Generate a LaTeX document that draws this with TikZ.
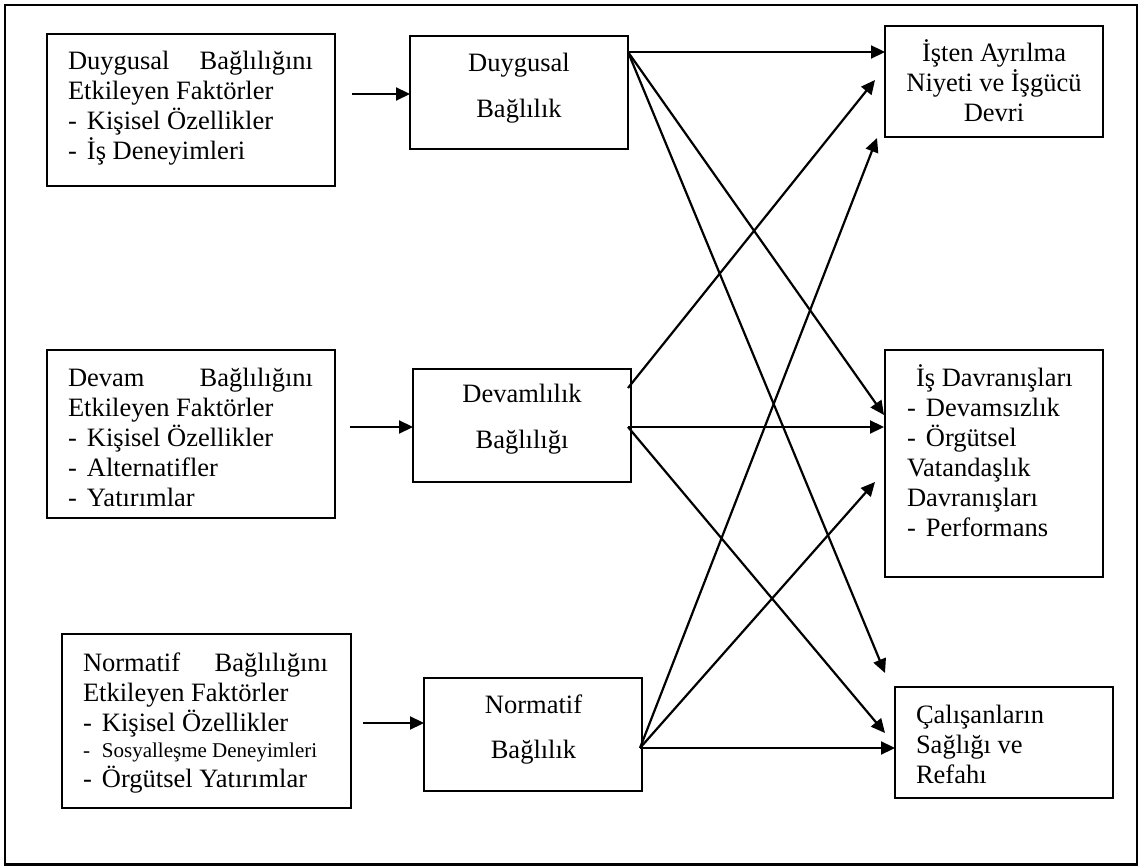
\documentclass[tikz,border=0pt]{standalone}
\usepackage{fontspec}
\setmainfont{Liberation Serif}
\usetikzlibrary{arrows.meta,calc}
\newcommand{\itemdash}{\makebox[19pt][l]{-}}
\begin{document}
\begin{tikzpicture}[x=1pt,y=-1pt,
  box/.style={draw, line width=2.2pt, inner sep=0pt, outer sep=0pt, anchor=north west},
  arr/.style={line width=2.2pt, -{Triangle[length=14pt,width=13pt]}},
  txt/.style={inner sep=0pt, outer sep=0pt, anchor=base west,
              font=\fontsize{26.5}{30}\selectfont},
  midtxt/.style={inner sep=0pt, outer sep=0pt, anchor=base,
              font=\fontsize{26.5}{45.5}\selectfont},
]
\useasboundingbox (0,0) rectangle (1141,866);
% outer frame
\draw[line width=2.6pt] (5,5) rectangle (1137,864.5);

% left column: factors
\node[box, minimum width=288pt, minimum height=152pt] (A1) at (47,34) {};
\node[box, minimum width=288pt, minimum height=168pt] (A2) at (47,350) {};
\node[box, minimum width=289pt, minimum height=174pt] (A3) at (62,634) {};
% middle column: commitment types
\node[box, minimum width=218pt, minimum height=113pt] (B1) at (410,36) {};
\node[box, minimum width=218pt, minimum height=113pt] (B2) at (413,369) {};
\node[box, minimum width=218pt, minimum height=113pt] (B3) at (424,678) {};
% right column: outcomes
\node[box, minimum width=218pt, minimum height=111pt] (C1) at (885,26) {};
\node[box, minimum width=218pt, minimum height=227pt] (C2) at (885,350) {};
\node[box, minimum width=218pt, minimum height=111pt] (C3) at (895,687) {};

% texts
\node[txt] (A1t) at (68,69.5) {\parbox[t]{245pt}{Duygusal\hfill Bağlılığını\\
  Etkileyen Faktörler\\\itemdash Kişisel Özellikler\\\itemdash İş Deneyimleri}};
\node[txt] (A2t) at (68,387) {\parbox[t]{245pt}{Devam\hfill Bağlılığını\\
  Etkileyen Faktörler\\\itemdash Kişisel Özellikler\\\itemdash Alternatifler\\
  \itemdash Yatırımlar}};
\node[txt] (A3t) at (83,671) {\parbox[t]{245pt}{Normatif\hfill Bağlılığını\\
  Etkileyen Faktörler\\\itemdash Kişisel Özellikler\\[-4pt]
  {\fontsize{21}{30}\selectfont\itemdash Sosyalleşme Deneyimleri}\\
  \itemdash Örgütsel Yatırımlar}};

\node[midtxt] (B1t) at (519,72) {\parbox[t]{210pt}{\centering Duygusal\\Bağlılık}};
\node[midtxt] (B2t) at (522,403) {\parbox[t]{210pt}{\centering Devamlılık\\Bağlılığı}};
\node[midtxt] (B3t) at (533.5,713) {\parbox[t]{210pt}{\centering Normatif\\Bağlılık}};

\node[txt, anchor=base] (C1t) at (994,62) {\parbox[t]{210pt}{\centering
  İşten Ayrılma\\Niyeti ve İşgücü\\Devri}};
\node[txt] (C2t) at (907,387) {\parbox[t]{190pt}{\hspace*{9pt}İş Davranışları\\
  \itemdash Devamsızlık\\\itemdash Örgütsel\\Vatandaşlık\\Davranışları\\
  \itemdash Performans}};
\node[txt] (C3t) at (916,723) {\parbox[t]{190pt}{Çalışanların\\Sağlığı ve\\Refahı}};

% factors -> commitment
\draw[arr] ($(A1.north east)+(17,60)$) -- ($(B1.north west)+(0,58)$);
\draw[arr] ($(A2.north east)+(15,77)$) -- ($(B2.north west)+(0,58)$);
\draw[arr] ($(A3.north east)+(12,89)$) -- ($(B3.north west)+(0,45)$);

% affective commitment -> outcomes
\draw[arr] ($(B1.north east)+(0,16)$) -- ($(C1.north west)+(0,26)$);
\draw[arr] ($(B1.north east)+(0,16)$) -- ($(C2.north west)+(-1,65)$);
\draw[arr] ($(B1.north east)+(0,16)$) -- ($(C3.north west)+(-10,-14)$);

% continuance commitment -> outcomes
\draw[arr] ($(B2.north east)+(-3,19)$) -- ($(C1.north west)+(-10,54)$);
\draw[arr] ($(B2.north east)+(-3,58)$) -- ($(C2.north west)+(-1,77)$);
\draw[arr] ($(B2.north east)+(-3,58)$) -- ($(C3.north west)+(-10,46)$);

% normative commitment -> outcomes
\draw[arr] ($(B3.north east)+(-2,70)$) -- ($(C1.south west)+(-8,1)$);
\draw[arr] ($(B3.north east)+(-2,70)$) -- ($(C2.north west)+(-10,132)$);
\draw[arr] ($(B3.north east)+(-2,70)$) -- ($(C3.north west)+(0,61)$);
\end{tikzpicture}
\end{document}
